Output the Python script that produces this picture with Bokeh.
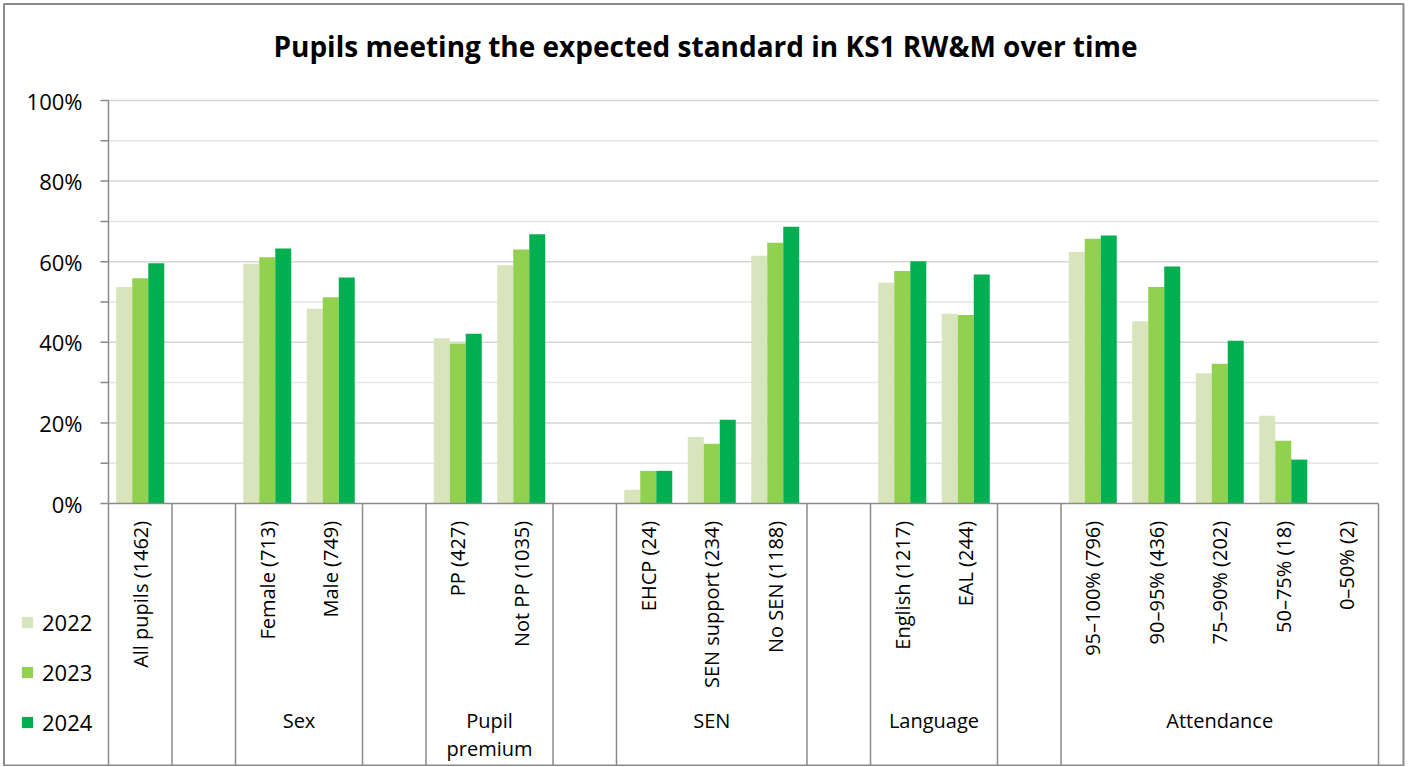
import math
from bokeh.plotting import figure
from bokeh.models import Range1d, Legend, LegendItem, ColumnDataSource
from bokeh.core.properties import value
from bokeh.embed import file_html
from bokeh.resources import INLINE

NaN = float("nan")

categories = ["All pupils (1462)", "", "Female (713)", "Male (749)", "",
              "PP (427)", "Not PP (1035)", "", "EHCP (24)", "SEN support (234)",
              "No SEN (1188)", "", "English (1217)", "EAL (244)", "",
              "95–100% (796)", "90–95% (436)", "75–90% (202)", "50–75% (18)", "0–50% (2)"]

# group label, first slot, slot after last
groups = [("", 0, 1), ("", 1, 2), ("Sex", 2, 4), ("", 4, 5), ("Pupil\npremium", 5, 7),
          ("", 7, 8), ("SEN", 8, 11), ("", 11, 12), ("Language", 12, 14), ("", 14, 15),
          ("Attendance", 15, 20)]

years = ["2022", "2023", "2024"]
y2022 = [53.7, NaN, 59.5, 48.3, NaN, 41.0, 59.1, NaN, 3.4, 16.5, 61.5, NaN, 54.8, 47.1, NaN, 62.4, 45.2, 32.3, 21.8, NaN]
y2023 = [55.9, NaN, 61.1, 51.2, NaN, 39.7, 63.0, NaN, 8.1, 14.8, 64.7, NaN, 57.7, 46.8, NaN, 65.7, 53.7, 34.7, 15.6, NaN]
y2024 = [59.6, NaN, 63.3, 56.1, NaN, 42.1, 66.8, NaN, 8.1, 20.8, 68.7, NaN, 60.1, 56.8, NaN, 66.5, 58.8, 40.4, 10.9, NaN]
series = [y2022, y2023, y2024]
colors = ["#D8E4BC", "#92D050", "#00B050"]

y_ticks = [0, 20, 40, 60, 80, 100]
y_minor = [10, 30, 50, 70, 90]
title = "Pupils meeting the expected standard in KS1 RW&M over time"

FONT = "Open Sans"
GREY = "#8A8A8A"

# ---- layout in pixels (the whole canvas is the plot frame) ----
W, H = 1406, 766
PX0, SLOT = 108.0, 63.5      # page x of first slot edge, px per slot
PY0, UNIT = 503.0, 4.03      # page y of 0 %, px per percentage point


def dx(px):
    return (px - PX0) / SLOT


def dy(py):
    return (PY0 - py) / UNIT


n = len(categories)
BOTTOM = dy(765)

p = figure(width=W, height=H, output_backend="svg", toolbar_location=None,
           x_range=Range1d(dx(0), dx(W)), y_range=Range1d(dy(H), dy(0)),
           x_axis_location=None, y_axis_location=None,
           min_border=0, min_border_left=0, min_border_right=0,
           min_border_top=0, min_border_bottom=0)
p.outline_line_color = None
p.xgrid.visible = False
p.ygrid.visible = False
p.background_fill_color = "white"
p.border_fill_color = "white"

# outer chart border
p.quad(left=[dx(3.5)], right=[dx(1403)], top=[dy(3.5)], bottom=[dy(765)],
       fill_color=None, line_color=GREY, line_width=2)

# title
p.text(x=[dx(705)], y=[dy(45)], text=[title], text_align="center",
       text_baseline="middle", text_font=value(FONT), text_font_size="28px",
       text_font_style="bold", text_color="black")

# gridlines
p.segment(x0=[0] * len(y_ticks[1:]), x1=[n] * len(y_ticks[1:]), y0=y_ticks[1:], y1=y_ticks[1:],
          line_color="#D6D6D6", line_width=1.5)
p.segment(x0=[0] * len(y_minor), x1=[n] * len(y_minor), y0=y_minor, y1=y_minor,
          line_color="#E6E6E6", line_width=1.5)

# y axis: line, ticks, labels
p.segment(x0=[0], x1=[0], y0=[0], y1=[100], line_color=GREY, line_width=1.5)
allt = y_ticks + y_minor
p.segment(x0=[dx(100)] * len(allt), x1=[0] * len(allt), y0=allt, y1=allt,
          line_color=GREY, line_width=1.5)
p.text(x=[dx(82)] * len(y_ticks), y=y_ticks, text=[f"{t}%" for t in y_ticks],
       text_align="right", text_baseline="middle", text_font=value(FONT),
       text_font_size="22px", text_color="black")

# bars
bw = 0.252
offsets = [-bw, 0.0, bw]
xs = [i + 0.5 for i in range(n)]
renderers = []
for yr, vals, col, off in zip(years, series, colors, offsets):
    src = ColumnDataSource(dict(x=[x + off for x in xs], top=vals))
    r = p.vbar(x="x", top="top", width=bw, bottom=0, source=src,
               fill_color=col, line_color=None)
    renderers.append((yr, r))

# category table
p.segment(x0=[0], x1=[n], y0=[0], y1=[0], line_color=GREY, line_width=1.5)
bounds = [g[1] for g in groups] + [groups[-1][2]]
p.segment(x0=bounds, x1=bounds, y0=[0] * len(bounds), y1=[BOTTOM] * len(bounds),
          line_color=GREY, line_width=1.5)

p.text(x=xs, y=[-4.3] * n, text=categories, angle=math.pi / 2,
       text_align="right", text_baseline="middle", text_font=value(FONT),
       text_font_size="20px", text_color="black")

gx = [(g[1] + g[2]) / 2 for g in groups]
p.text(x=gx, y=[dy(706)] * len(groups), text=[g[0] for g in groups],
       text_align="center", text_baseline="top", text_font=value(FONT),
       text_font_size="20px", text_color="black", text_line_height=1.05)

# legend
legend = Legend(items=[LegendItem(label=yr, renderers=[r]) for yr, r in renderers],
                location=(20, 29), orientation="vertical",
                glyph_width=14, glyph_height=14, label_standoff=8,
                label_height=30, label_text_baseline="middle",
                label_text_font=FONT, label_text_font_size="22px",
                label_text_color="black", spacing=20, padding=0, margin=0,
                border_line_color=None, background_fill_alpha=0)
p.add_layout(legend, "center")

open("out.html", "w").write(file_html(p, INLINE))
